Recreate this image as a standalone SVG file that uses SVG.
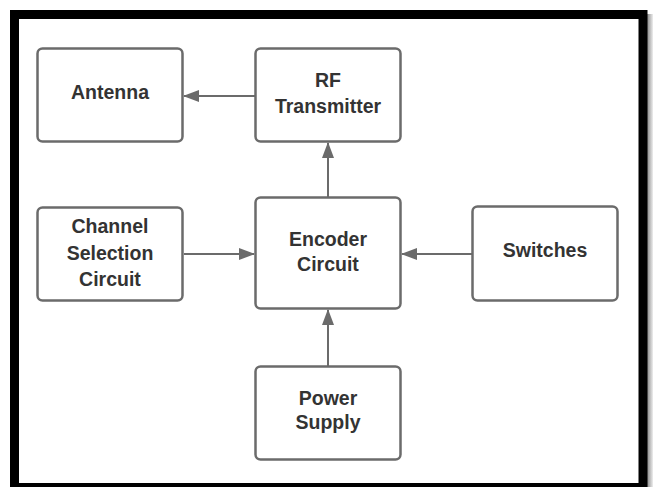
<svg xmlns="http://www.w3.org/2000/svg" width="653" height="487" viewBox="0 0 653 487">
<defs>
<style>
.box{fill:#fff;stroke:#6b6b6b;stroke-width:2.5}
.lbl{font-family:"Liberation Sans",Arial,sans-serif;font-weight:bold;font-size:19.5px;fill:#333;text-anchor:middle}
.con{stroke:#6b6b6b;stroke-width:2;fill:none;marker-end:url(#ah)}
</style>
<marker id="ah" viewBox="0 0 16 12" refX="15" refY="6" markerWidth="16" markerHeight="12" markerUnits="userSpaceOnUse" orient="auto">
<path d="M0,0 L16,6 L0,12 Z" fill="#6b6b6b"/>
</marker>
<linearGradient id="sh" x1="0" x2="1" y1="0" y2="0">
<stop offset="0" stop-color="#888"/>
<stop offset="1" stop-color="#eee"/>
</linearGradient>
</defs>
<rect width="653" height="487" fill="#fff"/>
<rect x="647" y="14" width="6" height="473" fill="url(#sh)"/>
<rect x="14.5" y="14.5" width="628.5" height="473" fill="none" stroke="#000" stroke-width="9"/>
<g id="connectors">
<line class="con" x1="255" y1="96" x2="184" y2="96"/>
<line class="con" x1="328" y1="197" x2="328" y2="143"/>
<line class="con" x1="184" y1="254" x2="254" y2="254"/>
<line class="con" x1="472" y1="254" x2="402" y2="254"/>
<line class="con" x1="328" y1="366" x2="328" y2="310"/>
</g>
<g id="antenna">
<rect class="box" x="37.5" y="48.5" width="145" height="93" rx="5"/>
<text class="lbl" x="110" y="99">Antenna</text>
</g>
<g id="rf-transmitter">
<rect class="box" x="255.5" y="48.5" width="145" height="93" rx="5"/>
<text class="lbl" x="328" y="87">RF</text>
<text class="lbl" x="328" y="113">Transmitter</text>
</g>
<g id="channel-selection">
<rect class="box" x="37.5" y="207.5" width="145" height="93" rx="5"/>
<text class="lbl" x="110" y="233">Channel</text>
<text class="lbl" x="110" y="259.5">Selection</text>
<text class="lbl" x="110" y="286">Circuit</text>
</g>
<g id="encoder-circuit">
<rect class="box" x="255.5" y="197.5" width="145" height="111" rx="5"/>
<text class="lbl" x="328" y="246">Encoder</text>
<text class="lbl" x="328" y="270.5">Circuit</text>
</g>
<g id="switches">
<rect class="box" x="472.5" y="206.5" width="145" height="94" rx="5"/>
<text class="lbl" x="545" y="257">Switches</text>
</g>
<g id="power-supply">
<rect class="box" x="255.5" y="366.5" width="145" height="93" rx="5"/>
<text class="lbl" x="328" y="405">Power</text>
<text class="lbl" x="328" y="429">Supply</text>
</g>
</svg>
